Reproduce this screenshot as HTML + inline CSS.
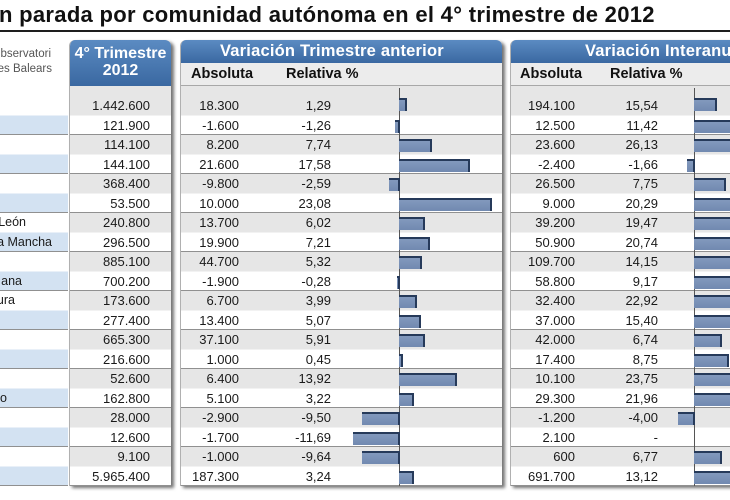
<!DOCTYPE html>
<html><head><meta charset="utf-8">
<style>
*{margin:0;padding:0;box-sizing:border-box}
html,body{width:730px;height:500px;overflow:hidden;background:#fff}
body{position:relative;font-family:"Liberation Sans",Arial,sans-serif;color:#1a1a1a}
.a{position:absolute}
.title{left:-1px;top:4px;font-size:22px;font-weight:bold;line-height:22px;letter-spacing:0.3px;white-space:nowrap;color:#111}
.rule{left:0;top:30px;width:730px;height:2px;background:#1e1e1e}
.src{left:-49px;width:100px;text-align:right;font-size:11.5px;line-height:14px;color:#555;white-space:nowrap}
.lab{position:absolute;left:0;top:96px;width:68px;height:390px;background:repeating-linear-gradient(to bottom,#fff 0,#fff 19.5px,#d3e2f2 19.5px,#d3e2f2 38px,#909090 38px,#909090 39px)}
.panel{position:absolute;top:40px;height:446px;border-radius:6px 6px 0 0;overflow:hidden;box-shadow:3px 2px 3px rgba(0,0,0,.55);background:#e6e6e6;border-left:1px solid #b0b0b0}
.hd{position:absolute;left:0;top:0;width:100%;background:linear-gradient(#5b8bc2,#3a68a1);color:#fff;font-weight:bold;white-space:nowrap}
.sub{position:absolute;left:0;top:23px;width:100%;height:23px;background:#ececec;border-bottom:1px solid #a8a8a8;font-size:14.5px;font-weight:bold;line-height:22px;color:#111}
.sub span{position:absolute;top:0;white-space:nowrap}
.body{position:absolute;left:0;top:56px;width:100%;height:390px;background:repeating-linear-gradient(to bottom,#e6e6e6 0,#e6e6e6 19.5px,#fff 19.5px,#fff 38px,#909090 38px,#909090 39px)}
.col{position:absolute;top:96px;width:100px;text-align:right;font-size:13px;line-height:19.5px;white-space:nowrap}
.col div{height:19.5px}
.lt{position:absolute;width:200px;text-align:right;font-size:12.5px;line-height:19.5px;white-space:nowrap}
.bar{position:absolute;height:13px;background:linear-gradient(#8299bd,#7189b0);border-top:2px solid #263a5a;border-right:2px solid #263a5a}
.axis{position:absolute;top:88px;width:1px;height:398px;background:#555}
</style></head><body>

<div class="a title">n parada por comunidad autónoma en el 4° trimestre de 2012</div>
<div class="a rule"></div>

<div class="a src" style="top:47px">Observatori</div>
<div class="a src" style="top:62px;left:-48px">es Balears</div>

<div class="lab"></div>
<div class="lt" style="left:-174px;top:213px">León</div>
<div class="lt" style="left:-148px;top:232.5px">a Mancha</div>
<div class="lt" style="left:-178px;top:271.5px">ana</div>
<div class="lt" style="left:-185px;top:291px">ura</div>
<div class="lt" style="left:-193px;top:388.5px">o</div>

<!-- Panel 1 -->
<div class="panel" style="left:69px;width:102px">
  <div class="hd" style="height:46px;padding-top:5px;font-size:16px;line-height:17px;text-align:center">4° Trimestre<br>2012</div>
  <div class="body"></div>
</div>

<!-- Panel 2 -->
<div class="panel" style="left:180px;width:322px">
  <div class="hd" style="height:23px;font-size:16.5px;line-height:23px;padding-left:39px;letter-spacing:0.2px">Variación Trimestre anterior</div>
  <div class="sub"><span style="left:10px">Absoluta</span><span style="left:105px">Relativa %</span></div>
  <div class="body"></div>
</div>

<!-- Panel 3 -->
<div class="panel" style="left:510px;width:240px">
  <div class="hd" style="height:23px;font-size:16.5px;line-height:23px;padding-left:74px;letter-spacing:0.2px">Variación Interanual</div>
  <div class="sub"><span style="left:9px">Absoluta</span><span style="left:99px">Relativa %</span></div>
  <div class="body"></div>
</div>

<!-- Columns -->
<div class="col" style="left:50px">
<div>1.442.600</div><div>121.900</div><div>114.100</div><div>144.100</div><div>368.400</div><div>53.500</div><div>240.800</div><div>296.500</div><div>885.100</div><div>700.200</div><div>173.600</div><div>277.400</div><div>665.300</div><div>216.600</div><div>52.600</div><div>162.800</div><div>28.000</div><div>12.600</div><div>9.100</div><div>5.965.400</div>
</div>
<div class="col" style="left:139px">
<div>18.300</div><div>-1.600</div><div>8.200</div><div>21.600</div><div>-9.800</div><div>10.000</div><div>13.700</div><div>19.900</div><div>44.700</div><div>-1.900</div><div>6.700</div><div>13.400</div><div>37.100</div><div>1.000</div><div>6.400</div><div>5.100</div><div>-2.900</div><div>-1.700</div><div>-1.000</div><div>187.300</div>
</div>
<div class="col" style="left:231px">
<div>1,29</div><div>-1,26</div><div>7,74</div><div>17,58</div><div>-2,59</div><div>23,08</div><div>6,02</div><div>7,21</div><div>5,32</div><div>-0,28</div><div>3,99</div><div>5,07</div><div>5,91</div><div>0,45</div><div>13,92</div><div>3,22</div><div>-9,50</div><div>-11,69</div><div>-9,64</div><div>3,24</div>
</div>
<div class="col" style="left:475px">
<div>194.100</div><div>12.500</div><div>23.600</div><div>-2.400</div><div>26.500</div><div>9.000</div><div>39.200</div><div>50.900</div><div>109.700</div><div>58.800</div><div>32.400</div><div>37.000</div><div>42.000</div><div>17.400</div><div>10.100</div><div>29.300</div><div>-1.200</div><div>2.100</div><div>600</div><div>691.700</div>
</div>
<div class="col" style="left:558px">
<div>15,54</div><div>11,42</div><div>26,13</div><div>-1,66</div><div>7,75</div><div>20,29</div><div>19,47</div><div>20,74</div><div>14,15</div><div>9,17</div><div>22,92</div><div>15,40</div><div>6,74</div><div>8,75</div><div>23,75</div><div>21,96</div><div>-4,00</div><div>-</div><div>6,77</div><div>13,12</div>
</div>

<!-- Axes -->
<div class="axis" style="left:399px"></div>
<div class="axis" style="left:694px"></div>

<!-- Panel 2 bars -->
<div class="bar" style="left:399px;top:98px;width:8px"></div>
<div class="bar" style="left:395px;top:119.5px;width:5px"></div>
<div class="bar" style="left:399px;top:139px;width:33px"></div>
<div class="bar" style="left:399px;top:158.5px;width:71px"></div>
<div class="bar" style="left:389px;top:178px;width:11px"></div>
<div class="bar" style="left:399px;top:197.5px;width:93px"></div>
<div class="bar" style="left:399px;top:217px;width:26px"></div>
<div class="bar" style="left:399px;top:236.5px;width:31px"></div>
<div class="bar" style="left:399px;top:256px;width:23px"></div>
<div class="bar" style="left:397px;top:275.5px;width:3px"></div>
<div class="bar" style="left:399px;top:295px;width:18px"></div>
<div class="bar" style="left:399px;top:314.5px;width:22px"></div>
<div class="bar" style="left:399px;top:334px;width:26px"></div>
<div class="bar" style="left:399px;top:353.5px;width:4px"></div>
<div class="bar" style="left:399px;top:373px;width:58px"></div>
<div class="bar" style="left:399px;top:392.5px;width:15px"></div>
<div class="bar" style="left:362px;top:412px;width:38px"></div>
<div class="bar" style="left:353px;top:431.5px;width:47px"></div>
<div class="bar" style="left:362px;top:451px;width:38px"></div>
<div class="bar" style="left:399px;top:470.5px;width:15px"></div>

<!-- Panel 3 bars -->
<div class="bar" style="left:694px;top:98px;width:23px"></div>
<div class="bar" style="left:694px;top:119.5px;width:47px"></div>
<div class="bar" style="left:694px;top:139px;width:107px"></div>
<div class="bar" style="left:687px;top:158.5px;width:8px"></div>
<div class="bar" style="left:694px;top:178px;width:32px"></div>
<div class="bar" style="left:694px;top:197.5px;width:83px"></div>
<div class="bar" style="left:694px;top:217px;width:80px"></div>
<div class="bar" style="left:694px;top:236.5px;width:85px"></div>
<div class="bar" style="left:694px;top:256px;width:58px"></div>
<div class="bar" style="left:694px;top:275.5px;width:38px"></div>
<div class="bar" style="left:694px;top:295px;width:94px"></div>
<div class="bar" style="left:694px;top:314.5px;width:63px"></div>
<div class="bar" style="left:694px;top:334px;width:28px"></div>
<div class="bar" style="left:694px;top:353.5px;width:35px"></div>
<div class="bar" style="left:694px;top:373px;width:97px"></div>
<div class="bar" style="left:694px;top:392.5px;width:90px"></div>
<div class="bar" style="left:678px;top:412px;width:17px"></div>
<div class="bar" style="left:694px;top:451px;width:28px"></div>
<div class="bar" style="left:694px;top:470.5px;width:54px"></div>

</body></html>
